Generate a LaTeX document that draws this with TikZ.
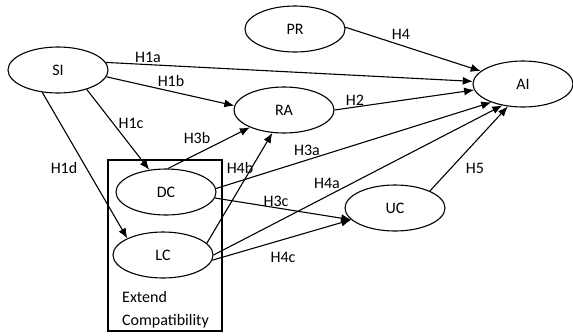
\documentclass[tikz,border=0pt]{standalone}
\usepackage{fontspec}
\setmainfont{Carlito}
\usepackage{tikz}
\usetikzlibrary{arrows.meta,shapes.geometric,positioning}

\begin{document}
\begin{tikzpicture}[x=1pt,y=-1pt,
          cons/.style={ellipse,draw,line width=1.1pt,minimum width=100pt,
                       minimum height=46pt,inner sep=0pt,font=\fontsize{16}{19}\selectfont},
          hyp/.style={font=\fontsize{16}{19}\selectfont,inner sep=1pt},
          path/.style={-{Latex[length=10pt,width=8pt]},line width=1.1pt},
        ]
        \useasboundingbox (0,0) rectangle (573,335);
        % constructs
        \node[cons](SI) at (58,70){SI};
        \node[cons](PR) at (295,29){PR};
        \node[cons](RA) at (284,110){RA};
        \node[cons](AI) at (523,84){AI};
        \node[cons](DC) at (166,192){DC};
        \node[cons](LC) at (163,255){LC};
        \node[cons](UC) at (395,208){UC};

        % extend compatibility box
        \node[draw,line width=1.1pt,minimum width=114pt,minimum height=171pt,
              inner sep=0pt](box) at (165,245.5){};
        \node[anchor=west,align=left,inner sep=0pt,
              font=\fontsize{16}{23}\selectfont](ext) at (122,309.5)
          {Extend\\Compatibility};

        % paths
        \draw[path](SI.9)--(AI.177);
        \draw[path](SI.-8)--(RA.175);
        \draw[path](SI.-34)--(DC.127);
        \draw[path](SI.-125)--(LC.155);
        \draw[path](PR.2)--(AI.163);
        \draw[path](RA.0)--(AI.187);
        \draw[path](DC.85)--(RA.207);
        \draw[path](DC.4)--(AI.210);
        \draw[path](DC.-7)--(UC.195);
        \draw[path](LC.15)--(RA.243);
        \draw[path](LC.0)--(AI.226);
        \draw[path](LC.-6)--(UC.195);
        \draw[path](UC.26)--(AI.236);

        % hypothesis labels
        \node[hyp](h1a) at (148,57){H1a};
        \node[hyp](h1b) at (171,81){H1b};
        \node[hyp](h1c) at (131,123){H1c};
        \node[hyp](h1d) at (64,168){H1d};
        \node[hyp](h2)  at (355,100){H2};
        \node[hyp](h3a) at (307,150){H3a};
        \node[hyp](h3b) at (197,138){H3b};
        \node[hyp](h3c) at (276,201){H3c};
        \node[hyp](h4)  at (401,34){H4};
        \node[hyp](h4a) at (327,183){H4a};
        \node[hyp](h4b) at (240,168){H4b};
        \node[hyp](h4c) at (283,257){H4c};
        \node[hyp](h5)  at (475,168){H5};
      \end{tikzpicture}
\end{document}
